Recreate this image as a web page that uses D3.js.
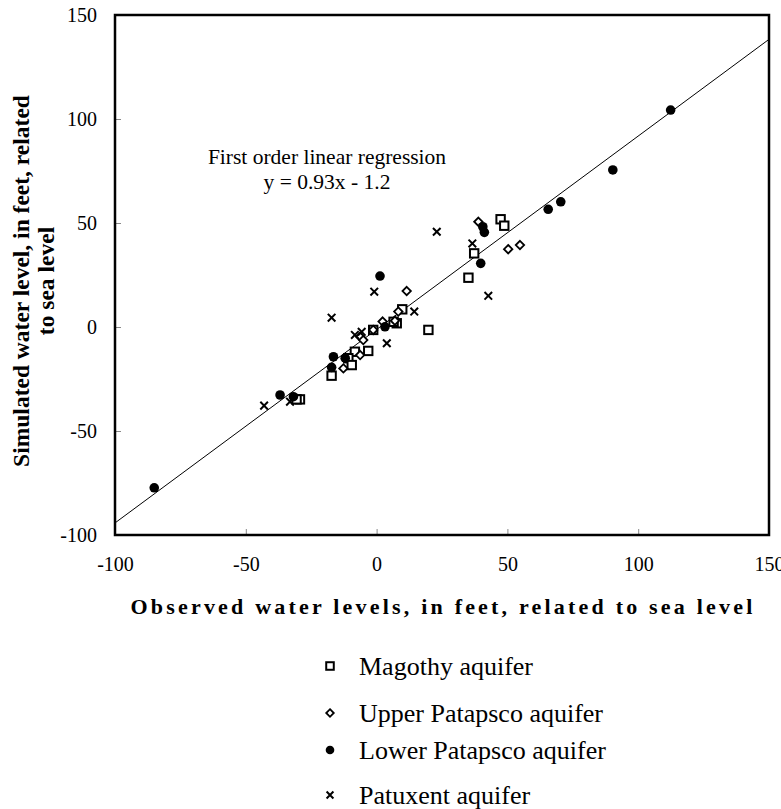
<!DOCTYPE html>
<html>
<head>
<meta charset="utf-8">
<script src="https://cdn.jsdelivr.net/npm/d3@7"></script>
<style>
  html, body { margin: 0; padding: 0; background: #fff; }
  svg { display: block; }
</style>
</head>
<body>
<svg id="chart" width="781" height="809"></svg>
<script>
// Observed vs simulated water levels (feet, relative to sea level), by aquifer
const magothyObs  = [47.4, 48.8, 37.3, 35.1, 19.8, 9.8, 7.7, 6.5, -1.3, -3.2, -8.3, -10.8, -9.5, -17.2, -29.3, -30.6];
const magothySim  = [51.8, 48.7, 35.4, 23.7, -1.4, 8.5, 1.8, 2.5, -1.4, -11.5, -11.9, -15.0, -18.3, -23.4, -34.8, -34.8];

const upperObs = [38.9, 50.3, 54.8, 11.5, 8.3, 2.3, -1.3, -6.3, -5.1, -6.3, -12.7, 7.0];
const upperSim = [50.6, 37.4, 39.4, 17.3, 7.4, 2.6, -1.4, -4.7, -6.3, -13.5, -19.9, 3.0];

const lowerObs = [-85.0, 112.4, 90.3, 70.4, 65.6, 40.6, 41.2, 39.8, 1.3, 3.2, -16.5, -17.2, -12.0, -36.9, -31.8];
const lowerSim = [-77.3, 104.3, 75.5, 60.2, 56.6, 48.2, 45.5, 30.6, 24.5, 0.1, -14.3, -19.4, -15.0, -32.7, -33.5];

const patuxentObs = [23.0, 36.6, 42.7, -0.9, 14.4, -17.2, 3.9, -8.3, -5.7, -43.0, -33.1];
const patuxentSim = [45.8, 40.2, 15.0, 17.0, 7.4, 4.5, -7.8, -3.8, -2.3, -37.8, -35.9];

const xTicks = [-100, -50, 0, 50, 100, 150];
const yTicks = [-100, -50, 0, 50, 100, 150];

const regSlope = 0.93;
const regIntercept = -1.2;

const seriesNames = ["Magothy aquifer", "Upper Patapsco aquifer", "Lower Patapsco aquifer", "Patuxent aquifer"];
const seriesShapes = ["square", "diamond", "circle", "cross"];

const series = [
  { name: seriesNames[0], shape: seriesShapes[0], xs: magothyObs, ys: magothySim },
  { name: seriesNames[1], shape: seriesShapes[1], xs: upperObs, ys: upperSim },
  { name: seriesNames[2], shape: seriesShapes[2], xs: lowerObs, ys: lowerSim },
  { name: seriesNames[3], shape: seriesShapes[3], xs: patuxentObs, ys: patuxentSim }
];

const SERIF = "'Liberation Serif', 'Times New Roman', Times, serif";

const svg = d3.select("#chart");
const plot = { left: 115, right: 769, top: 15, bottom: 535 };

const x = d3.scaleLinear().domain([-100, 150]).range([plot.left, plot.right]);
const y = d3.scaleLinear().domain([-100, 150]).range([plot.bottom, plot.top]);

// Axes: labels outside, short ticks pointing into the plot
const fmt = d => String(d);
const yAxis = d3.axisLeft(y).tickValues(yTicks).tickSize(-6).tickPadding(18).tickFormat(fmt);
const xAxis = d3.axisBottom(x).tickValues(xTicks).tickSize(-6).tickPadding(22).tickFormat(fmt);

const gy = svg.append("g").attr("transform", `translate(${plot.left},0)`).call(yAxis);
const gx = svg.append("g").attr("transform", `translate(0,${plot.bottom})`).call(xAxis);
[gx, gy].forEach(g => {
  g.attr("font-family", null).attr("font-size", null);
  g.select(".domain").remove();
  g.selectAll(".tick line").attr("stroke", "#888").attr("stroke-width", 1);
  g.selectAll(".tick text")
    .style("font-family", SERIF).style("font-size", "20px").attr("fill", "#000");
});

// Regression line clipped to the plot frame
svg.append("clipPath").attr("id", "plotclip")
  .append("rect").attr("x", plot.left).attr("y", plot.top)
  .attr("width", plot.right - plot.left).attr("height", plot.bottom - plot.top);

const regLine = d3.line().x(d => x(d)).y(d => y(regSlope * d + regIntercept));
svg.append("path")
  .datum(x.domain())
  .attr("d", regLine)
  .attr("clip-path", "url(#plotclip)")
  .attr("fill", "none").attr("stroke", "#000").attr("stroke-width", 1);

// Marker drawing
function drawMarker(g, shape, size) {
  const s = size;
  if (shape === "square") {
    g.append("rect").attr("x", -s * 0.42).attr("y", -s * 0.42).attr("width", s * 0.84).attr("height", s * 0.84)
      .attr("fill", "#fff").attr("stroke", "#000").attr("stroke-width", 2);
  } else if (shape === "diamond") {
    const r = s * 0.42;
    g.append("path").attr("d", `M0,${-r}L${r},0L0,${r}L${-r},0Z`)
      .attr("fill", "#fff").attr("stroke", "#000").attr("stroke-width", 1.8);
  } else if (shape === "circle") {
    g.append("circle").attr("r", s * 0.48).attr("fill", "#000");
  } else {
    const r = s * 0.38;
    g.append("path").attr("d", `M${-r},${-r}L${r},${r}M${-r},${r}L${r},${-r}`)
      .attr("fill", "none").attr("stroke", "#000").attr("stroke-width", 2);
  }
}

series.forEach(sr => {
  const pts = sr.xs.map((v, i) => [v, sr.ys[i]]);
  const g = svg.append("g").attr("class", "series");
  g.selectAll("g.pt").data(pts).enter().append("g")
    .attr("class", "pt")
    .attr("transform", d => `translate(${x(d[0])},${y(d[1])})`)
    .each(function () { drawMarker(d3.select(this), sr.shape, 10); });
});

// Plot frame
svg.append("rect")
  .attr("x", plot.left).attr("y", plot.top)
  .attr("width", plot.right - plot.left).attr("height", plot.bottom - plot.top)
  .attr("fill", "none").attr("stroke", "#000").attr("stroke-width", 2.5);

// Regression annotation
const ann = svg.append("text").attr("text-anchor", "middle")
  .style("font-family", SERIF).style("font-size", "21.5px");
ann.append("tspan").attr("x", 327).attr("y", 164).text("First order linear regression");
ann.append("tspan").attr("x", 327).attr("y", 189).text(`y = ${regSlope}x - ${Math.abs(regIntercept)}`);

// Axis titles
svg.append("text")
  .attr("x", 443).attr("y", 614)
  .attr("text-anchor", "middle")
  .style("font-family", SERIF)
  .style("font-size", "22px").style("font-weight", "bold").style("letter-spacing", "3.2px")
  .text("Observed water levels, in feet, related to sea level");

const yTitle = svg.append("text")
  .attr("transform", `translate(0,281) rotate(-90)`)
  .attr("text-anchor", "middle")
  .style("font-family", SERIF)
  .style("font-size", "23.5px").style("font-weight", "bold");
yTitle.append("tspan").attr("x", 0).attr("y", 29).text("Simulated water level, in feet, related");
yTitle.append("tspan").attr("x", 0).attr("y", 54).text("to sea level");

// Legend
const legendRows = [666, 713, 750, 795];
const legend = svg.append("g");
series.forEach((sr, i) => {
  const row = legend.append("g").attr("transform", `translate(330,${legendRows[i]})`);
  drawMarker(row.append("g"), sr.shape, 9);
  row.append("text").attr("x", 29).attr("y", 9)
    .style("font-family", SERIF).style("font-size", "26px").text(sr.name);
});
</script>
</body>
</html>
